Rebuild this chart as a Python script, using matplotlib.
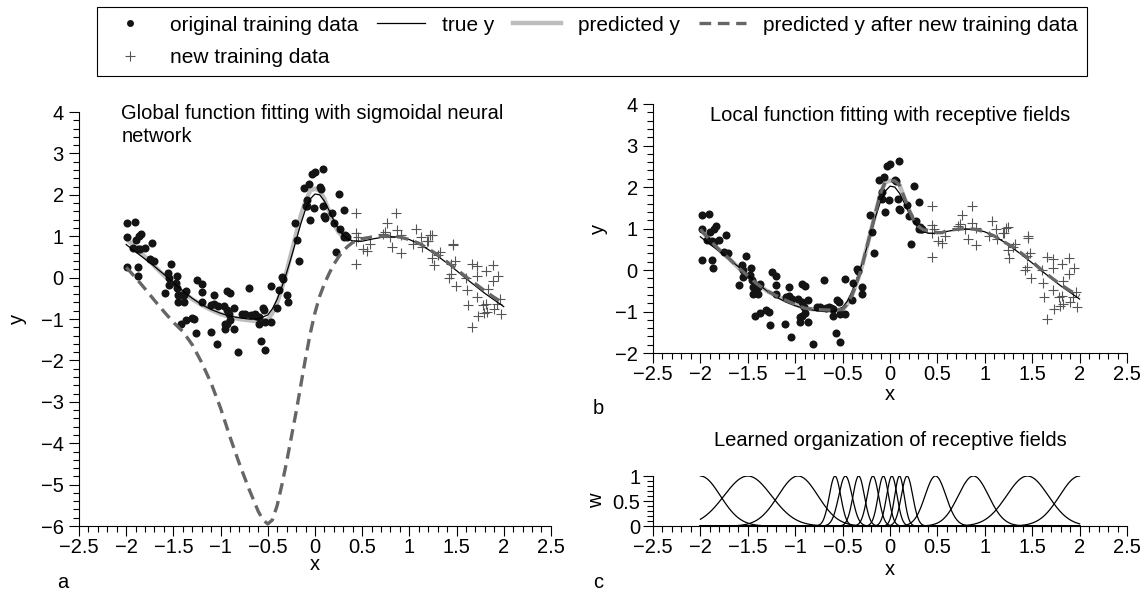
import numpy as np
import matplotlib.pyplot as plt
from matplotlib.lines import Line2D
from matplotlib.ticker import MultipleLocator, FuncFormatter

plt.rcParams['font.family'] = ['Liberation Sans', 'DejaVu Sans']

# original training data (dots)
dot_x = [-1.986, -1.905, -1.986, -1.986, -1.93, -1.90, -1.86, -1.84, -1.88, -1.856, -1.80, -1.73, -1.75,
         -1.71, -1.88, -1.87, -1.52, -1.56, -1.59, -1.55, -1.465, -1.476, -1.546, -1.457, -1.447, -1.42,
         -1.39, -1.37, -1.447, -1.39, -1.42, -1.37, -1.307, -1.28, -1.265, -1.247, -1.20, -1.20, -1.20,
         -1.106, -1.07, -1.10, -1.07, -1.03, -1.04, -0.948, -0.966, -0.93, -0.90, -0.93, -0.95, -0.895,
         -0.93, -0.91, -0.86, -0.86, -0.81, -0.77, -0.74, -0.694, -0.673, -0.64, -0.62, -0.596, -0.596,
         -0.554, -0.535, -0.568, -0.53, -0.525, -0.47, -0.47, -0.40, -0.385, -0.35, -0.34, -0.296, -0.29,
         -0.216, -0.19, -0.173, -0.12, -0.068, -0.085, -0.10, -0.05, -0.015, -0.032, 0.003, 0.09, 0.055,
         0.06, -0.085, 0.08, 0.108, 0.18, 0.197, 0.25, 0.27, 0.31, 0.225, 0.32, 0.33, 0.34, 0.31, 0.10]
dot_y = [1.32, 1.35, 0.98, 0.25, 0.72, 0.92, 1.00, 1.06, 0.70, 0.68, 0.72, 0.84, 0.44,
         0.41, 0.25, 0.05, 0.34, 0.12, -0.37, 0.00, 0.05, -0.13, -0.18, -0.25, -0.41, -0.42,
         -0.42, -0.33, -0.58, -0.58, -1.11, -1.03, -0.97, -1.00, -1.33, -0.05, -0.15, -0.35, -0.58,
         -1.31, -0.42, -0.65, -0.63, -0.69, -1.61, -1.25, -0.69, -0.33, -0.38, -1.11, -1.13, -1.03,
         -0.77, -0.89, -1.25, -0.73, -1.79, -0.89, -0.89, -0.25, -0.91, -0.89, -0.92, -0.95, -1.11,
         -0.73, -0.77, -1.52, -1.74, -1.07, -1.07, -0.21, -0.73, -0.31, 0.02, -0.03, -0.42, -0.58,
         1.32, 0.92, 0.40, 2.17, 2.25, 1.88, 1.73, 1.40, 1.68, 2.50, 2.55, 2.62, 2.18,
         2.15, 1.72, 1.72, 1.44, 1.57, 1.31, 2.02, 1.18, 1.63, 0.62, 1.03, 1.00, 0.98, 0.98, 1.48]

# new training data (plus signs)
new_x = [0.44, 0.44, 0.46, 0.44, 0.44, 0.51, 0.55, 0.58, 0.76, 0.74, 0.72, 0.79, 0.82, 0.87, 0.86, 0.91,
         0.91, 1.075, 1.04, 1.12, 1.13, 1.19, 1.22, 1.24, 1.20, 1.24, 1.26, 1.32, 1.30, 1.46, 1.46, 1.445,
         1.48, 1.42, 1.44, 1.49, 1.66, 1.72, 1.72, 1.81, 1.89, 1.94, 1.89, 1.60, 1.61, 1.83, 1.72, 1.81,
         1.78, 1.62, 1.73, 1.79, 1.82, 1.90, 1.96, 1.97, 1.66, 1.93]
new_y = [1.55, 1.08, 0.98, 0.89, 0.32, 0.70, 0.64, 0.82, 1.32, 1.11, 1.05, 0.98, 0.74, 1.14, 1.55, 1.02,
         0.60, 1.18, 0.81, 0.98, 0.74, 0.88, 1.02, 1.03, 0.88, 0.48, 0.30, 0.62, 0.55, 0.82, 0.78, 0.33,
         0.40, 0.00, 0.08, -0.20, 0.32, 0.27, 0.04, 0.15, 0.30, 0.05, -0.09, 0.00, -0.31, -0.27, -0.47, -0.63,
         -0.65, -0.66, -0.93, -0.86, -0.82, -0.76, -0.52, -0.89, -1.19, -0.64]

# true function
true_x = [-2.0, -1.9, -1.8, -1.7, -1.6, -1.5, -1.4, -1.3, -1.2, -1.1, -1.0, -0.9, -0.8, -0.7, -0.6, -0.5,
          -0.45, -0.4, -0.35, -0.3, -0.25, -0.2, -0.15, -0.1, -0.05, 0.0, 0.05, 0.1, 0.15, 0.2, 0.25, 0.3,
          0.35, 0.4, 0.5, 0.6, 0.7, 0.8, 0.9, 1.0, 1.1, 1.2, 1.3, 1.4, 1.5, 1.6, 1.7, 1.8, 1.9, 2.0]
true_y = [0.80, 0.62, 0.45, 0.27, 0.08, -0.12, -0.32, -0.50, -0.65, -0.77, -0.86, -0.93, -0.97, -1.00, -1.00, -0.90,
          -0.75, -0.52, -0.22, 0.12, 0.50, 0.90, 1.30, 1.65, 1.90, 2.02, 2.00, 1.85, 1.62, 1.38, 1.17, 1.02,
          0.93, 0.89, 0.88, 0.93, 0.97, 0.99, 0.98, 0.92, 0.82, 0.68, 0.52, 0.35, 0.17, -0.02, -0.20, -0.38, -0.54, -0.70]

# sigmoidal network, before new data
gpred_x = [-2.0, -1.9, -1.8, -1.7, -1.6, -1.5, -1.4, -1.3, -1.2, -1.1, -1.0, -0.9, -0.8, -0.7, -0.6, -0.5,
           -0.45, -0.4, -0.35, -0.3, -0.25, -0.2, -0.15, -0.1, -0.05, 0.0, 0.05, 0.1, 0.15, 0.2, 0.25, 0.3, 0.35]
gpred_y = [0.95, 0.72, 0.50, 0.28, 0.05, -0.15, -0.35, -0.52, -0.66, -0.78, -0.88, -0.95, -1.00, -1.03, -1.06, -1.02,
           -0.85, -0.60, -0.25, 0.15, 0.60, 1.05, 1.50, 1.85, 2.10, 2.15, 2.10, 1.90, 1.60, 1.30, 1.10, 0.98, 0.95]

# sigmoidal network, after new data
gnew_x = [-2.0, -1.9, -1.8, -1.7, -1.6, -1.5, -1.4, -1.3, -1.2, -1.1, -1.0, -0.9, -0.8, -0.7, -0.6, -0.55,
          -0.5, -0.45, -0.4, -0.35, -0.3, -0.25, -0.2, -0.15, -0.1, -0.05, 0.0, 0.05, 0.1, 0.15, 0.2, 0.25,
          0.3, 0.35, 0.4, 0.5, 0.6, 0.7, 0.8, 0.9, 1.0, 1.1, 1.2, 1.3, 1.4, 1.5, 1.6, 1.7, 1.8, 1.9, 2.0]
gnew_y = [0.25, 0.00, -0.27, -0.55, -0.82, -1.08, -1.30, -1.62, -2.05, -2.55, -3.15, -3.85, -4.50, -5.10, -5.65, -5.85,
          -5.95, -5.85, -5.50, -5.00, -4.45, -3.85, -3.25, -2.60, -1.95, -1.35, -0.85, -0.45, -0.15, 0.10, 0.32, 0.50,
          0.65, 0.76, 0.85, 0.94, 0.98, 1.00, 1.00, 0.98, 0.92, 0.83, 0.70, 0.55, 0.38, 0.20, 0.02, -0.15, -0.32, -0.48, -0.62]

# receptive fields, before new data
lpred_x = [-2.0, -1.9, -1.8, -1.7, -1.6, -1.5, -1.4, -1.3, -1.2, -1.1, -1.0, -0.9, -0.8, -0.7, -0.6, -0.5,
           -0.45, -0.4, -0.35, -0.3, -0.25, -0.2, -0.15, -0.1, -0.05, 0.0, 0.05, 0.1, 0.15, 0.2, 0.25, 0.3, 0.35, 0.4]
lpred_y = [0.98, 0.72, 0.48, 0.28, 0.06, -0.14, -0.34, -0.50, -0.62, -0.73, -0.83, -0.92, -0.95, -0.96, -0.97, -0.95,
           -0.82, -0.60, -0.30, 0.05, 0.50, 0.95, 1.40, 1.85, 2.12, 2.15, 2.15, 2.05, 1.75, 1.45, 1.20, 1.05, 0.97, 0.95]

# receptive fields, after new data
lnew_x = lpred_x + [0.45, 0.5, 0.55, 0.6, 0.7, 0.8, 0.9, 1.0, 1.1, 1.2, 1.3, 1.4, 1.5, 1.6, 1.7, 1.8, 1.9, 2.0]
lnew_y = lpred_y + [0.93, 0.90, 0.90, 0.95, 0.98, 1.00, 0.98, 0.92, 0.82, 0.68, 0.55, 0.38, 0.20, 0.00, -0.18, -0.35, -0.50, -0.62]

# learned receptive fields: centres and widths
rf_center = [-2.0, -1.5, -0.97, -0.58, -0.47, -0.33, -0.18, -0.07, 0.02, 0.10, 0.18, 0.48, 0.88, 1.45, 2.0]
rf_width = [0.21, 0.25, 0.21, 0.06, 0.07, 0.06, 0.06, 0.055, 0.055, 0.05, 0.06, 0.11, 0.16, 0.22, 0.21]

DOT = '#141414'
PLUS = '#555555'
GREY = '#bdbdbd'
DASH = '#666666'
FS = 14.5


def fmt(v, pos):
    s = '%g' % v
    return s.replace('-', '\u2212')


def style(ax, ymin, ymax, ymaj, ymin_step, ypad=4):
    ax.spines['top'].set_visible(False)
    ax.spines['right'].set_visible(False)
    ax.set_xlim(-2.5, 2.5)
    ax.set_ylim(ymin, ymax)
    ax.xaxis.set_major_locator(MultipleLocator(0.5))
    ax.xaxis.set_minor_locator(MultipleLocator(0.1))
    ax.yaxis.set_major_locator(MultipleLocator(ymaj))
    ax.yaxis.set_minor_locator(MultipleLocator(ymin_step))
    ax.xaxis.set_major_formatter(FuncFormatter(fmt))
    ax.yaxis.set_major_formatter(FuncFormatter(fmt))
    ax.tick_params(which='major', direction='out', length=7, width=0.8, labelsize=FS)
    ax.tick_params(which='minor', direction='out', length=4, width=0.8)
    ax.tick_params(axis='x', pad=1.5)
    ax.tick_params(axis='y', pad=ypad)


def draw_fit(ax, px, py, nx, ny):
    ax.plot(dot_x, dot_y, 'o', color=DOT, ms=5.8, mew=0, zorder=3)
    ax.plot(new_x, new_y, '+', color=PLUS, ms=7.5, mew=0.8, zorder=3)
    ax.plot(px, py, color=GREY, lw=3.2, zorder=2, solid_capstyle='butt')
    ax.plot(true_x, true_y, color='black', lw=0.9, zorder=4)
    ax.plot(nx, ny, color=DASH, lw=2.4, dashes=(3.5, 2), zorder=5)


fig = plt.figure(figsize=(11.48, 5.96), dpi=100)

ax1 = fig.add_axes([0.0688, 0.1174, 0.4111, 0.6946])
draw_fit(ax1, gpred_x, gpred_y, gnew_x, gnew_y)
style(ax1, -6, 4, 1, 0.2)
ax1.set_xlabel('x', fontsize=FS)
ax1.set_ylabel('y', fontsize=FS)
ax1.xaxis.set_label_coords(0.5, -0.07)
ax1.yaxis.set_label_coords(-0.11, 0.5)
ax1.text(-2.05, 4.2, 'Global function fitting with sigmoidal neural\nnetwork', fontsize=FS,
         ha='left', va='top', linespacing=1.25)

ax2 = fig.add_axes([0.5688, 0.4077, 0.4129, 0.4178])
draw_fit(ax2, lpred_x, lpred_y, lnew_x, lnew_y)
style(ax2, -2, 4, 1, 0.2)
ax2.set_xlabel('x', fontsize=FS)
ax2.set_ylabel('y', fontsize=FS)
ax2.xaxis.set_label_coords(0.5, -0.13)
ax2.yaxis.set_label_coords(-0.095, 0.5)
ax2.text(0.0, 3.73, 'Local function fitting with receptive fields', fontsize=FS, ha='center', va='center')

ax3 = fig.add_axes([0.5688, 0.1174, 0.4129, 0.0839])
xs = np.linspace(-2, 2, 401)
for c, w in zip(rf_center, rf_width):
    ax3.plot(xs, np.exp(-(xs - c) ** 2 / (2 * w ** 2)), color='black', lw=0.9)
style(ax3, 0, 1, 0.5, 0.1, ypad=2)
ax3.set_xlabel('x', fontsize=FS)
ax3.set_ylabel('w', fontsize=FS)
ax3.xaxis.set_label_coords(0.5, -0.68)
ax3.yaxis.set_label_coords(-0.1, 0.5)
fig.text(890 / 1148, 1 - 440 / 596, 'Learned organization of receptive fields', fontsize=FS,
         ha='center', va='center')

fig.text(63 / 1148, 1 - 582 / 596, 'a', fontsize=FS, ha='center', va='center')
fig.text(598 / 1148, 1 - 409 / 596, 'b', fontsize=FS, ha='center', va='center')
fig.text(598 / 1148, 1 - 583 / 596, 'c', fontsize=FS, ha='center', va='center')

handles = [
    Line2D([], [], ls='none', marker='o', color=DOT, ms=5, mew=0),
    Line2D([], [], ls='none', marker='+', color=PLUS, ms=7, mew=0.8),
    Line2D([], [], color='black', lw=0.9),
    Line2D([], [], color=GREY, lw=3.2),
    Line2D([], [], color=DASH, lw=2.4, dashes=(3.5, 2)),
]
labels = ['original training data', 'new training data', 'true y', 'predicted y',
          'predicted y after new training data']
leg = fig.legend(handles, labels, ncol=4, loc='upper left', bbox_to_anchor=(97 / 1148, 1 - 7 / 596),
                 prop={'size': 15}, frameon=True, fancybox=False, edgecolor='black', framealpha=1,
                 handlelength=2.3, handletextpad=0.8, columnspacing=0.9, labelspacing=0.65,
                 borderpad=0.42, borderaxespad=0)
leg.get_frame().set_linewidth(0.8)

plt.savefig('out.png', dpi=100)
